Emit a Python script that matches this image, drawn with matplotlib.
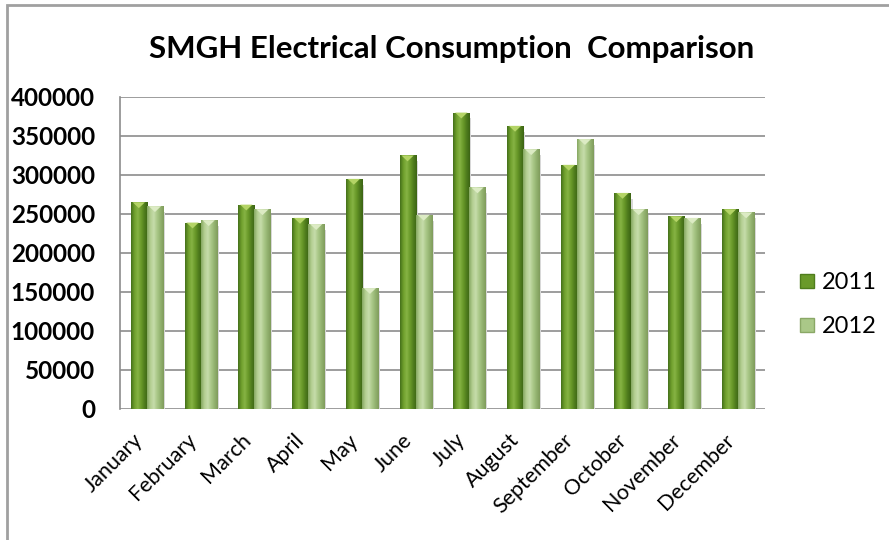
import numpy as np
import matplotlib
matplotlib.use('Agg')
import matplotlib.pyplot as plt
from matplotlib.colors import LinearSegmentedColormap
from matplotlib.patches import Polygon, Rectangle
from matplotlib.lines import Line2D

months = ['January', 'February', 'March', 'April', 'May', 'June', 'July',
          'August', 'September', 'October', 'November', 'December']
y2011 = [265000, 239000, 262000, 245000, 295000, 325000, 380000,
         363000, 313000, 277000, 247000, 256000]
y2012 = [260000, 242000, 256000, 237000, 155000, 249000, 284000,
         333000, 346000, 256000, 245000, 252000]
series = ['2011', '2012']
yticks = [0, 50000, 100000, 150000, 200000, 250000, 300000, 350000, 400000]

plt.rcParams['font.family'] = ['Lato', 'DejaVu Sans']

# horizontal shading across each bar, fake 3d cylinder look
cmap11 = LinearSegmentedColormap.from_list('g11', ['#44701a', '#6f9f2c', '#86b344', '#6a9a2a', '#4f7d1d', '#3c6414'])
cmap12 = LinearSegmentedColormap.from_list('g12', ['#86a862', '#b4cf92', '#c6dcaa', '#aac888', '#93b26f', '#7f9c5c'])
cap11 = '#b4d466'
cap12 = '#dcebc4'

fig = plt.figure(figsize=(8.89, 5.4), dpi=100)
ax = fig.add_axes([0.135, 0.2426, 0.7255, 0.5778])

x = np.arange(len(months))
w = 0.3
bars11 = ax.bar(x - w / 2, y2011, w, color='none', zorder=3)
bars12 = ax.bar(x + w / 2, y2012, w, color='none', zorder=3)

grad = np.linspace(0, 1, 64).reshape(1, -1)
capdepth = 7500
for bars, cm, capc in [(bars11, cmap11, cap11), (bars12, cmap12, cap12)]:
    for b in bars:
        x0, h, bw = b.get_x(), b.get_height(), b.get_width()
        # soft shadow to the right
        ax.add_patch(Rectangle((x0 + bw, 0), bw * 0.12, h - capdepth, color='#d8d8d8', zorder=2, lw=0))
        im = ax.imshow(grad, cmap=cm, aspect='auto', extent=(x0, x0 + bw, 0, h), zorder=3)
        im.set_clip_path(b)
        ax.add_patch(Polygon([(x0 + bw * 0.12, h), (x0 + bw * 0.88, h), (x0 + bw / 2, h - capdepth)],
                             closed=True, color=capc, zorder=4, lw=0))

ax.set_xlim(-0.5, len(months) - 0.5)
ax.set_ylim(0, 400000)
ax.set_yticks(yticks)
ax.set_yticklabels([str(v) for v in yticks], fontsize=17.5, fontweight='bold')
ax.set_xticks(x)
ax.set_xticklabels(months, rotation=45, ha='right', fontsize=15.5)
ax.tick_params(axis='both', length=0)
ax.tick_params(axis='x', pad=15)
ax.tick_params(axis='y', pad=18)
ax.yaxis.grid(True, color='#8c8c8c', lw=1.2)
ax.set_axisbelow(True)
for s in ['top', 'right', 'bottom']:
    ax.spines[s].set_visible(False)
ax.spines['left'].set_color('#8c8c8c')
ax.spines['left'].set_linewidth(1.2)

handles = [Line2D([], [], marker='s', ls='', markersize=10, markerfacecolor='#6a9a2a', markeredgecolor='#4f7d1d'),
           Line2D([], [], marker='s', ls='', markersize=10, markerfacecolor='#aac888', markeredgecolor='#8aa866')]
fig.legend(handles, series, loc='center left', bbox_to_anchor=(0.899, 0.436), frameon=False,
           fontsize=17, handlelength=0.7, handletextpad=0.25, labelspacing=0.95,
           borderpad=0, borderaxespad=0)

fig.text(0.5085, 0.91, 'SMGH Electrical Consumption  Comparison', ha='center', va='center',
         fontsize=22.5, fontweight='bold')

# outer chart frame, cut off at right and bottom like the source
fig.patches.append(Rectangle((7 / 889, -0.1), 1.2, 1 - 5 / 540 + 0.1, transform=fig.transFigure,
                             fill=False, edgecolor='#a0a0a0', lw=2))

fig.savefig('out.png', dpi=100)
